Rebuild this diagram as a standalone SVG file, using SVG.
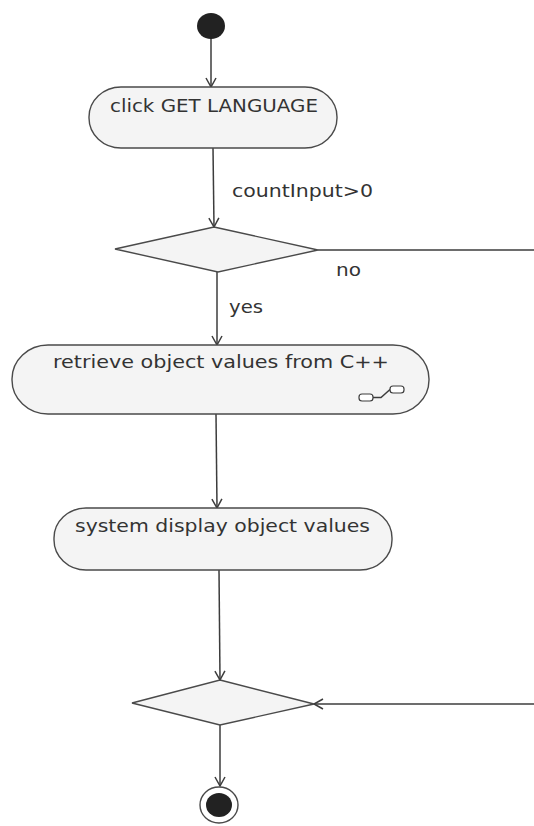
<svg xmlns="http://www.w3.org/2000/svg" width="534" height="826" viewBox="0 0 534 826">
  <style>
    .bg { fill: #ffffff; }
    .action { fill: #f4f4f4; stroke: #4a4a4a; stroke-width: 1.4; }
    .decision { fill: #f4f4f4; stroke: #4a4a4a; stroke-width: 1.4; }
    .flow { fill: none; stroke: #3c3c3c; stroke-width: 1.5; }
    .label { font-family: "DejaVu Sans", "Liberation Sans", sans-serif; font-size: 17px; fill: #333333; }
    .dot { fill: #222222; }
    .ring { fill: #ffffff; stroke: #4a4a4a; stroke-width: 1.4; }
    .icon { fill: #ffffff; stroke: #3c3c3c; stroke-width: 1.2; }
  </style>
  <defs>
    <marker id="open-arrow" markerUnits="userSpaceOnUse" markerWidth="12" markerHeight="12" viewBox="0 0 12 12" refX="10" refY="6" orient="auto">
      <path d="M1,1 L10,6 L1,11" fill="none" stroke="#3c3c3c" stroke-width="1.5"/>
    </marker>
  </defs>

  <rect class="bg" x="0" y="0" width="534" height="826"/>

  <!-- connectors -->
  <g id="connectors">
    <line class="flow" x1="211" y1="38" x2="211" y2="87" marker-end="url(#open-arrow)"/>
    <line class="flow" x1="213" y1="148" x2="214" y2="227" marker-end="url(#open-arrow)"/>
    <text class="label" x="232" y="197" textLength="141" lengthAdjust="spacingAndGlyphs">countInput&gt;0</text>
    <line class="flow" x1="318" y1="250" x2="534" y2="250"/>
    <text class="label" x="336" y="276" textLength="25" lengthAdjust="spacingAndGlyphs">no</text>
    <line class="flow" x1="217" y1="272" x2="217" y2="345" marker-end="url(#open-arrow)"/>
    <text class="label" x="229" y="313" textLength="34" lengthAdjust="spacingAndGlyphs">yes</text>
    <line class="flow" x1="216" y1="414" x2="217" y2="508" marker-end="url(#open-arrow)"/>
    <line class="flow" x1="219" y1="570" x2="220" y2="680" marker-end="url(#open-arrow)"/>
    <line class="flow" x1="534" y1="704" x2="314" y2="704" marker-end="url(#open-arrow)"/>
    <line class="flow" x1="220" y1="725" x2="220" y2="786" marker-end="url(#open-arrow)"/>
  </g>

  <!-- initial node -->
  <g id="start">
    <ellipse class="dot" cx="211" cy="26" rx="14" ry="13"/>
  </g>

  <!-- action: click GET LANGUAGE -->
  <g id="click-get-language">
    <rect class="action" x="89" y="87" width="248" height="61" rx="32" ry="30"/>
    <text class="label" x="110" y="112" textLength="208" lengthAdjust="spacingAndGlyphs">click GET LANGUAGE</text>
  </g>

  <!-- decision: countInput > 0 -->
  <g id="decision-count">
    <polygon class="decision" points="214,227 318,250 218,272 115,249"/>
  </g>

  <!-- action: retrieve object values from C++ (call behaviour) -->
  <g id="retrieve-values">
    <rect class="action" x="12" y="345" width="417" height="69" rx="36" ry="34"/>
    <text class="label" x="53" y="368" textLength="336" lengthAdjust="spacingAndGlyphs">retrieve object values from C++</text>
    <g id="call-icon">
      <rect class="icon" x="359" y="394" width="14" height="7" rx="3"/>
      <rect class="icon" x="390" y="386" width="14" height="7" rx="3"/>
      <path class="flow" d="M373,397.5 L381,397.5 L390,389.5" stroke-width="1.2"/>
    </g>
  </g>

  <!-- action: system display object values -->
  <g id="display-values">
    <rect class="action" x="54" y="508" width="338" height="62" rx="32" ry="30"/>
    <text class="label" x="75" y="532" textLength="295" lengthAdjust="spacingAndGlyphs">system display object values</text>
  </g>

  <!-- merge node -->
  <g id="merge">
    <polygon class="decision" points="220,680 314,704 220,725 132,703"/>
  </g>

  <!-- final node -->
  <g id="end">
    <ellipse class="ring" cx="219" cy="805" rx="19" ry="18"/>
    <ellipse class="dot" cx="219" cy="805" rx="13" ry="12"/>
  </g>
</svg>
